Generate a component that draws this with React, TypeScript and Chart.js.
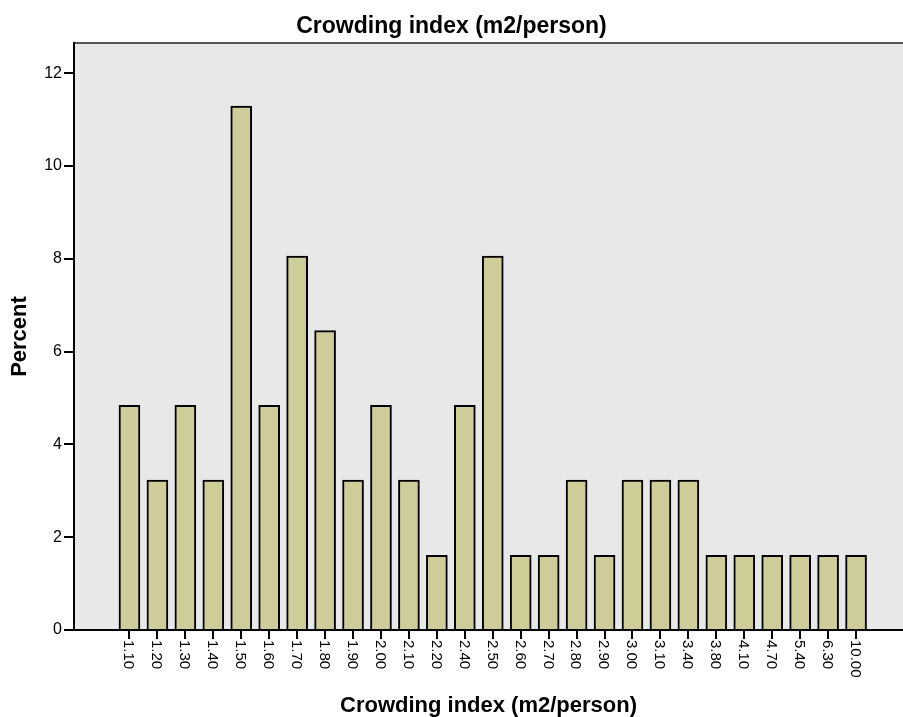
import React, { useEffect, useRef } from "react";
import { Chart, registerables } from "chart.js";

Chart.register(...registerables);

const categories = [
  "1.10", "1.20", "1.30", "1.40", "1.50", "1.60", "1.70", "1.80", "1.90",
  "2.00", "2.10", "2.20", "2.40", "2.50", "2.60", "2.70", "2.80", "2.90",
  "3.00", "3.10", "3.40", "3.80", "4.10", "4.70", "5.40", "6.30", "10.00",
];
const percents = [
  4.84, 3.23, 4.84, 3.23, 11.29, 4.84, 8.06, 6.45, 3.23,
  4.84, 3.23, 1.61, 4.84, 8.06, 1.61, 1.61, 3.23, 1.61,
  3.23, 3.23, 3.23, 1.61, 1.61, 1.61, 1.61, 1.61, 1.61,
];
const yTicks = [0, 2, 4, 6, 8, 10, 12];

const FONT = "'Liberation Sans', Arial, sans-serif";

const plotBgPlugin = {
  id: "plotBg",
  beforeDraw(chart: any) {
    const { ctx, chartArea } = chart;
    ctx.save();
    ctx.fillStyle = "#E8E8E8";
    ctx.fillRect(chartArea.left, chartArea.top, chartArea.right - chartArea.left, chartArea.bottom - chartArea.top);
    ctx.strokeStyle = "#555555";
    ctx.lineWidth = 2;
    ctx.beginPath();
    ctx.moveTo(chartArea.left, chartArea.top);
    ctx.lineTo(chartArea.right, chartArea.top);
    ctx.stroke();
    ctx.restore();
  },
};

const xLabelPlugin = {
  id: "xLabels",
  afterDraw(chart: any) {
    const { ctx } = chart;
    const xs = chart.scales.x;
    ctx.save();
    ctx.fillStyle = "#000";
    ctx.font = `15px ${FONT}`;
    ctx.textAlign = "left";
    ctx.textBaseline = "middle";
    categories.forEach((lab, i) => {
      const px = xs.getPixelForValue(i);
      ctx.save();
      ctx.translate(px - 1, xs.top + 10);
      ctx.rotate(Math.PI / 2);
      ctx.fillText(lab, 0, 0);
      ctx.restore();
    });
    ctx.restore();
  },
};

export default function App() {
  const ref = useRef<HTMLCanvasElement>(null);
  useEffect(() => {
    if (!ref.current) return;
    const chart = new Chart(ref.current, {
      type: "bar",
      data: {
        datasets: [
          {
            label: "Percent",
            data: percents.map((v, i) => ({ x: i, y: v })),
            backgroundColor: "#CECC98",
            borderColor: "#000000",
            borderWidth: 2,
            barThickness: 21,
          },
        ],
      },
      options: {
        animation: false,
        responsive: false,
        maintainAspectRatio: false,
        layout: { padding: 0 },
        plugins: {
          legend: { display: false },
          tooltip: { enabled: false },
          title: {
            display: true,
            text: "Crowding index (m2/person)",
            color: "#000",
            font: { family: FONT, size: 23, weight: "bold" },
            padding: { top: 13, bottom: 2.4 },
          },
        },
        scales: {
          x: {
            type: "linear",
            offset: false,
            min: -1.985,
            max: 27.68,
            afterBuildTicks: (s: any) => {
              s.ticks = categories.map((_, i) => ({ value: i }));
            },
            afterFit: (s: any) => {
              s.height = 87;
            },
            ticks: { display: false },
            grid: {
              display: true,
              offset: false,
              drawOnChartArea: false,
              drawTicks: true,
              tickLength: 9,
              color: "#000",
              lineWidth: 2,
            },
            border: { display: true, color: "#000", width: 2 },
            title: {
              display: true,
              text: "Crowding index (m2/person)",
              color: "#000",
              font: { family: FONT, size: 22, weight: "bold" },
              padding: { top: 0, bottom: -2 },
            },
          },
          y: {
            type: "linear",
            min: 0,
            max: 12.65,
            afterBuildTicks: (s: any) => {
              s.ticks = yTicks.map((v) => ({ value: v }));
            },
            afterFit: (s: any) => {
              s.width = 74;
            },
            ticks: {
              color: "#000",
              font: { family: FONT, size: 16 },
              padding: 2,
            },
            grid: {
              display: true,
              drawOnChartArea: false,
              drawTicks: true,
              tickLength: 10,
              color: "#000",
              lineWidth: 2,
            },
            border: { display: true, color: "#000", width: 2 },
            title: {
              display: true,
              text: "Percent",
              color: "#000",
              font: { family: FONT, size: 22, weight: "bold" },
              padding: { top: 7, bottom: 0 },
            },
          },
        },
      },
      plugins: [plotBgPlugin, xLabelPlugin],
    } as any);
    return () => chart.destroy();
  }, []);
  return (
    <div style={{ position: "fixed", left: 0, top: 0, width: 903, height: 717, background: "#fff" }}>
      <canvas ref={ref} width={903} height={717} style={{ width: 903, height: 717, display: "block" }} />
    </div>
  );
}
